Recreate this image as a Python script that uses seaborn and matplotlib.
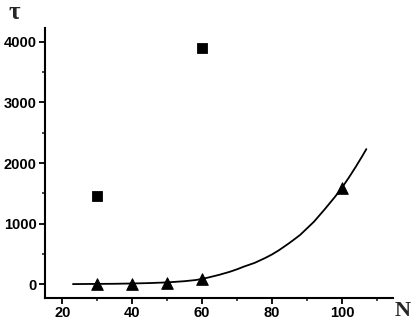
import matplotlib
matplotlib.use("Agg")
import matplotlib.pyplot as plt
import seaborn as sns
import pandas as pd
from matplotlib.ticker import MultipleLocator

sns.set_style("ticks")
plt.rcParams['font.family'] = ['Liberation Sans', 'DejaVu Sans']

# data
sq_N = [30, 60]
sq_tau = [1450, 3900]
tri_N = [30, 40, 50, 60, 100]
tri_tau = [0, 0, 20, 80, 1590]
fit_N = [23, 30, 35, 40, 45, 50, 55, 58, 60, 62, 65, 68, 70, 72, 75, 78, 80, 82,
         85, 88, 90, 92, 95, 98, 100, 102, 104, 106, 107]
fit_tau = [0, 3, 5, 10, 17, 28, 48, 66, 85, 112, 155, 205, 245, 290, 350, 430, 490, 560,
           680, 810, 920, 1030, 1230, 1440, 1590, 1760, 1940, 2130, 2230]

fig = plt.figure(figsize=(4.14, 3.22), dpi=100)
ax = fig.add_axes([0.1087, 0.0745, 0.8403, 0.8385])

sns.lineplot(x=fit_N, y=fit_tau, ax=ax, color='black', linewidth=1.3)
sns.scatterplot(x=sq_N, y=sq_tau, ax=ax, marker='s', s=55, color='black', edgecolor='black')
sns.scatterplot(x=tri_N, y=tri_tau, ax=ax, marker='^', s=70, color='black', edgecolor='black')

ax.set_xlim(15, 114.6)
ax.set_ylim(-230, 4230)
ax.xaxis.set_major_locator(MultipleLocator(20))
ax.xaxis.set_minor_locator(MultipleLocator(10))
ax.yaxis.set_major_locator(MultipleLocator(1000))
ax.yaxis.set_minor_locator(MultipleLocator(500))
ax.tick_params(axis='both', which='major', direction='out', length=4, width=1.3,
               labelsize=10.5, colors='black', pad=2)
ax.tick_params(axis='both', which='minor', direction='out', length=2.5, width=1.2)
for lab in ax.get_xticklabels() + ax.get_yticklabels():
    lab.set_fontweight('bold')
for s in ['left', 'bottom']:
    ax.spines[s].set_linewidth(1.5)
    ax.spines[s].set_color('black')
sns.despine(ax=ax)

fig.text(0.034, 0.962, 'τ', fontsize=18, fontweight='bold', family=['Liberation Serif', 'DejaVu Serif'],
         ha='center', va='center')
fig.text(0.973, 0.034, 'N', fontsize=16, fontweight='bold', family=['Liberation Serif', 'DejaVu Serif'],
         ha='center', va='center')

fig.savefig('out.png', dpi=100)
